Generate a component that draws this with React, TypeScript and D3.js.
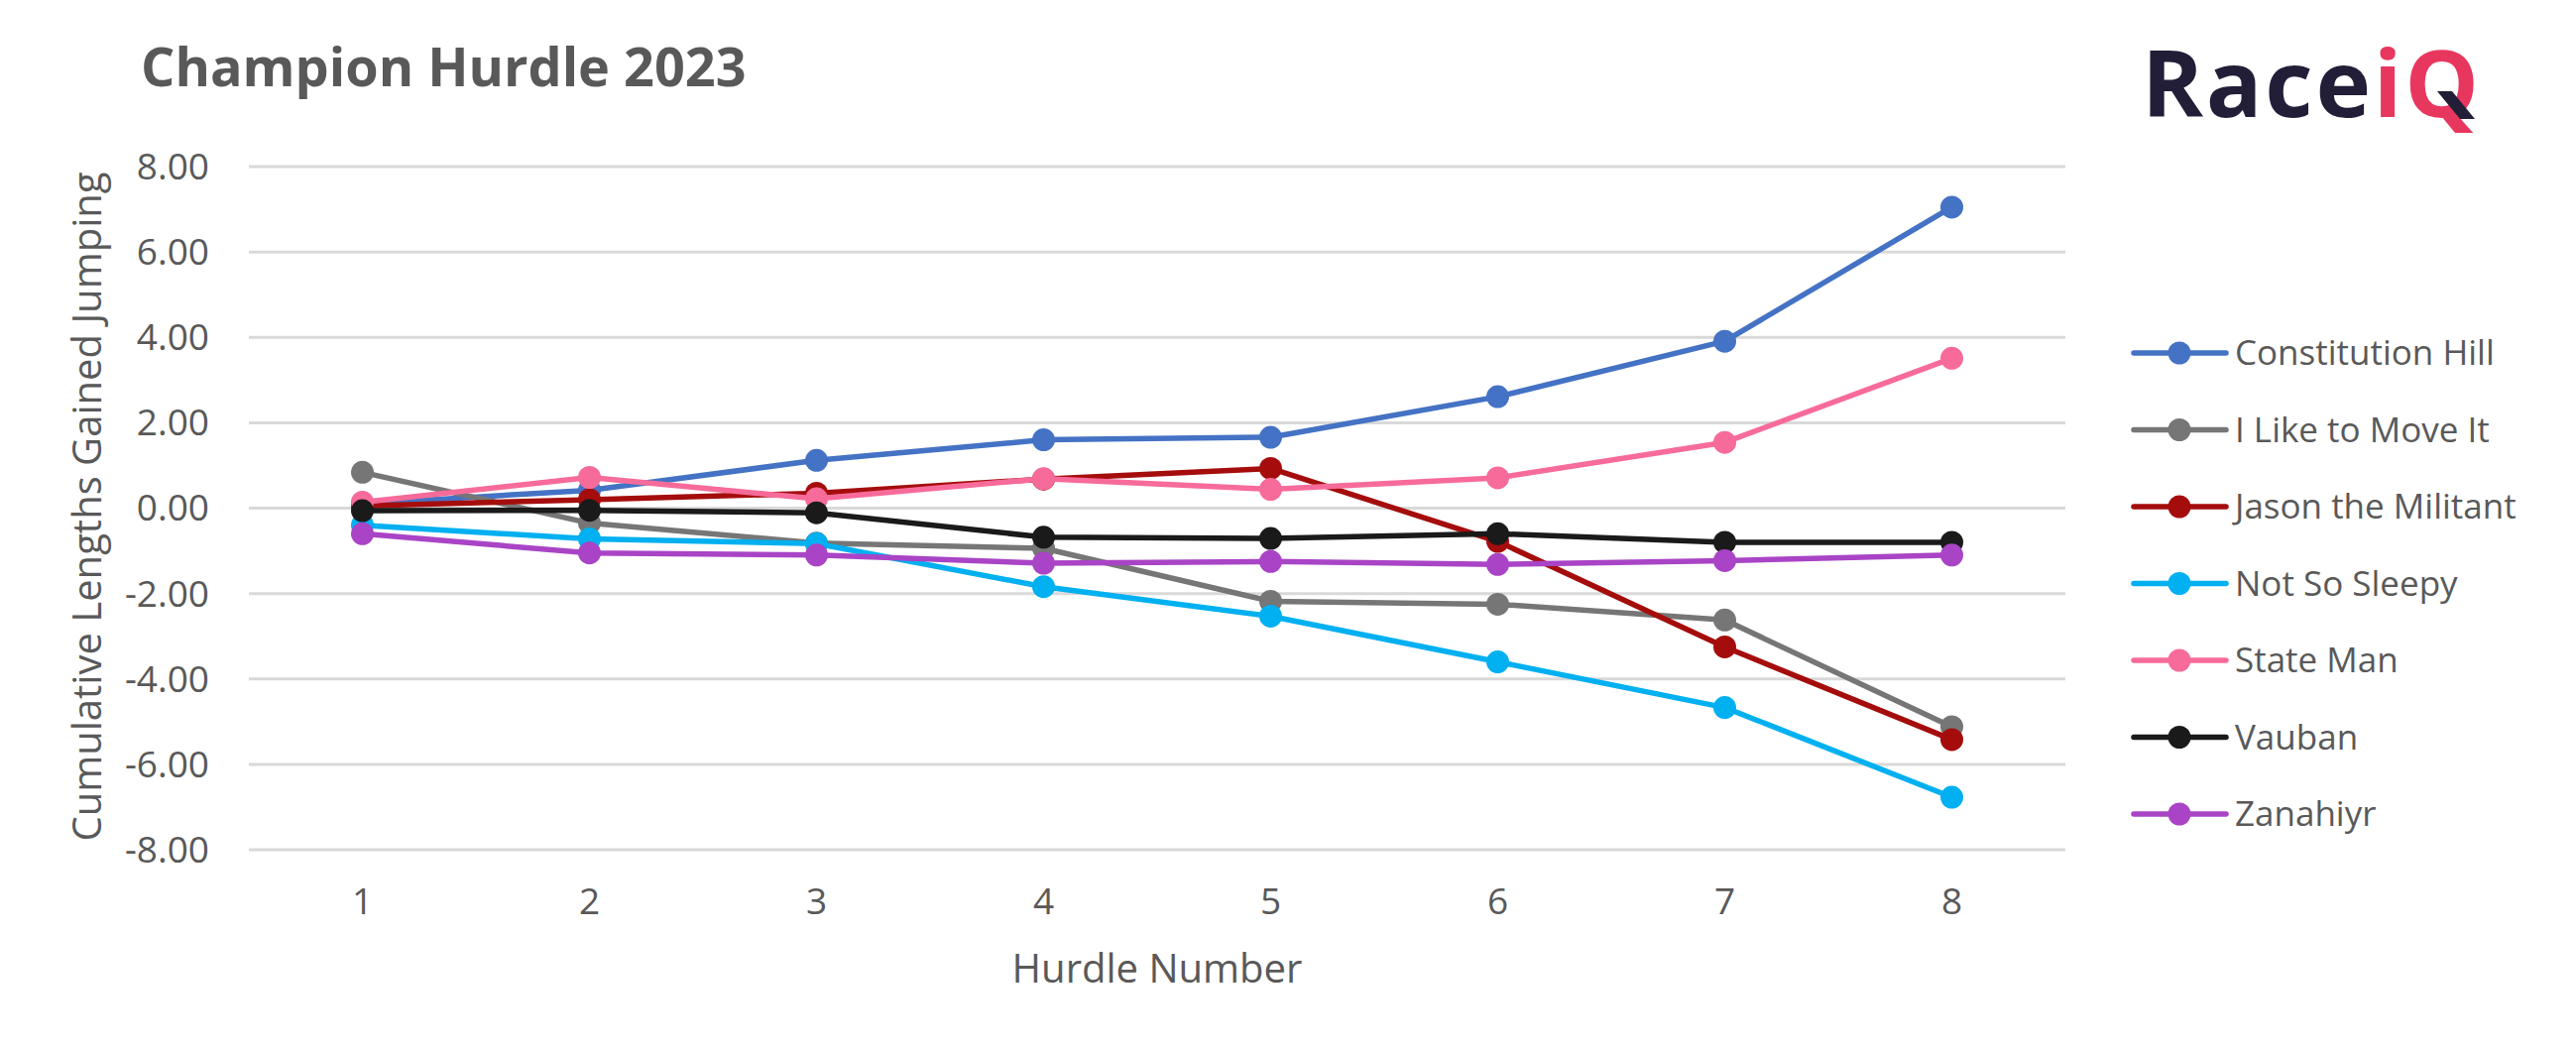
import React, { useEffect } from "react";
import * as d3 from "d3";

const hurdles = [1, 2, 3, 4, 5, 6, 7, 8];
const yTicks = [-8, -6, -4, -2, 0, 2, 4, 6, 8];

const seriesNames = [
  "Constitution Hill",
  "I Like to Move It",
  "Jason the Militant",
  "Not So Sleepy",
  "State Man",
  "Vauban",
  "Zanahiyr",
];
const seriesColors = ["#4472C4", "#767676", "#A50D0D", "#00B0F0", "#F76B9A", "#1A1A1A", "#A944C6"];

const constitutionHill = [0.1, 0.42, 1.12, 1.6, 1.66, 2.61, 3.91, 7.05];
const iLikeToMoveIt = [0.84, -0.35, -0.82, -0.94, -2.18, -2.25, -2.62, -5.12];
const jasonTheMilitant = [0.05, 0.2, 0.35, 0.68, 0.93, -0.78, -3.25, -5.42];
const notSoSleepy = [-0.4, -0.72, -0.83, -1.84, -2.53, -3.6, -4.67, -6.77];
const stateMan = [0.14, 0.72, 0.22, 0.69, 0.44, 0.71, 1.54, 3.51];
const vauban = [-0.06, -0.05, -0.11, -0.68, -0.71, -0.6, -0.8, -0.8];
const zanahiyr = [-0.6, -1.05, -1.1, -1.29, -1.25, -1.32, -1.23, -1.1];

const seriesValues = [constitutionHill, iLikeToMoveIt, jasonTheMilitant, notSoSleepy, stateMan, vauban, zanahiyr];

const W = 2598;
const H = 1060;
const TEXT = "#595959";
const FONT = "'Open Sans', 'Noto Sans', sans-serif";
const NAVY = "#221E38";
const LOGO_PINK = "#E8375F";

export default function App() {
  useEffect(() => {
    document.body.style.margin = "0";
  }, []);

  const x = d3.scalePoint<number>().domain(hurdles).range([251, 2083]).padding(0.5);
  const y = d3.scaleLinear().domain([-8, 8]).range([857, 168]);
  const line = d3
    .line<number>()
    .x((_, i) => x(hurdles[i]) as number)
    .y((d) => y(d));

  const legendY = d3.scalePoint<string>().domain(seriesNames).range([356, 821]);

  return (
    <svg width={W} height={H} style={{ display: "block", background: "#fff" }} fontFamily={FONT}>
      <rect width={W} height={H} fill="#fff" />
      {/* title */}
      <text x={142} y={87} fontSize={54} fontWeight={700} fill={TEXT}>
        Champion Hurdle 2023
      </text>
      {/* logo */}
      <text x={2160} y={118} fontSize={94} fontWeight={700} textLength={340} lengthAdjust="spacing">
        <tspan fill={NAVY}>Race</tspan>
        <tspan fill={LOGO_PINK}>iQ</tspan>
      </text>
      <polygon points="2458,92 2473,92 2496,120 2481,120" fill={NAVY} />

      {/* gridlines */}
      {yTicks.map((t) => (
        <line key={t} x1={251} x2={2083} y1={y(t)} y2={y(t)} stroke="#D9D9D9" strokeWidth={3} />
      ))}
      {/* y tick labels */}
      {yTicks.map((t) => (
        <text key={t} x={211} y={y(t)} dy="0.35em" textAnchor="end" fontSize={37} fill={TEXT}>
          {t.toFixed(2)}
        </text>
      ))}
      {/* x tick labels */}
      {hurdles.map((h) => (
        <text key={h} x={x(h)} y={922} textAnchor="middle" fontSize={37} fill={TEXT}>
          {h}
        </text>
      ))}
      {/* axis titles */}
      <text x={1167} y={991} textAnchor="middle" fontSize={40} fill={TEXT}>
        Hurdle Number
      </text>
      <text
        transform={`translate(102, 511) rotate(-90)`}
        textAnchor="middle"
        fontSize={40}
        fill={TEXT}
      >
        Cumulative Lengths Gained Jumping
      </text>

      {/* series */}
      {seriesValues.map((vals, si) => (
        <g key={seriesNames[si]}>
          <path d={line(vals) || ""} fill="none" stroke={seriesColors[si]} strokeWidth={5.5} strokeLinejoin="round" strokeLinecap="round" />
          {vals.map((v, i) => (
            <circle key={i} cx={x(hurdles[i])} cy={y(v)} r={11.5} fill={seriesColors[si]} />
          ))}
        </g>
      ))}

      {/* legend */}
      {seriesNames.map((name, si) => {
        const ly = legendY(name) as number;
        return (
          <g key={name}>
            <line x1={2152} x2={2245} y1={ly} y2={ly} stroke={seriesColors[si]} strokeWidth={5.5} strokeLinecap="round" />
            <circle cx={2198} cy={ly} r={11.5} fill={seriesColors[si]} />
            <text x={2254} y={ly} dy="0.35em" fontSize={35} fill={TEXT}>
              {name}
            </text>
          </g>
        );
      })}
    </svg>
  );
}
